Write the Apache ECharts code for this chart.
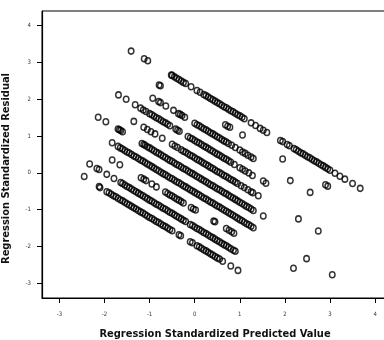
<!DOCTYPE html>
<html>
<head>
<meta charset="utf-8">
<script src="https://cdn.jsdelivr.net/npm/echarts@6/dist/echarts.min.js"></script>
<style>
html, body { margin: 0; padding: 0; background: #fff; }
#main { width: 384px; height: 340px; }
</style>
</head>
<body>
<div id="main"></div>
<script>
var xTicks = [-3, -2, -1, 0, 1, 2, 3, 4];
var yTicks = [-3, -2, -1, 0, 1, 2, 3, 4];

// points, grouped by the diagonal band they sit on (top band first)
var lineA = [[-1.41,3.31],[-1.12,3.10],[-1.04,3.05],
    [-0.52,2.66],[-0.5,2.65],[-0.45,2.61],[-0.4,2.57],[-0.35,2.54],[-0.3,2.50],[-0.25,2.46],[-0.2,2.43],
    [-0.08,2.34],[0.05,2.24],[0.12,2.19],[0.2,2.13],[0.25,2.10],
    [0.3,2.06],[0.35,2.02],[0.4,1.99],[0.45,1.95],[0.5,1.91],[0.55,1.88],[0.6,1.84],[0.65,1.80],[0.7,1.77],
    [0.75,1.73],[0.8,1.69],[0.85,1.66],[0.9,1.62],[0.95,1.58],[1.0,1.55],[1.05,1.51],[1.1,1.47],
    [1.25,1.36],[1.35,1.29],[1.45,1.21],[1.52,1.16],[1.6,1.10],
    [1.9,0.88],[1.95,0.85],[2.05,0.77],[2.1,0.74],[2.2,0.66],[2.25,0.63],[2.3,0.59],[2.35,0.55],[2.4,0.52],
    [2.45,0.48],[2.5,0.44],[2.55,0.41],[2.6,0.37],[2.65,0.33],[2.7,0.30],[2.75,0.26],[2.8,0.22],[2.85,0.19],
    [2.9,0.15],[2.95,0.11],[3.0,0.07],[3.11,-0.01],[3.22,-0.09],[3.33,-0.17],[3.5,-0.29],[3.67,-0.42]];
var lineB = [[-0.79,2.39],[-0.76,2.37],[0.68,1.31],[0.73,1.27],[0.78,1.24],[1.06,1.03],[1.95,0.38],[2.9,-0.32],[2.95,-0.36]];
var lineC = [[-0.93,2.03],[-0.8,1.94],[-0.76,1.91],[-0.64,1.82],[-0.47,1.70],[-0.36,1.61],[-0.32,1.59],[-0.28,1.56],[-0.22,1.51],
    [0,1.35],[0.05,1.31],[0.1,1.28],[0.15,1.24],[0.2,1.20],[0.25,1.17],[0.3,1.13],[0.35,1.09],[0.4,1.06],
    [0.45,1.02],[0.5,0.98],[0.55,0.95],[0.6,0.91],[0.65,0.87],[0.7,0.84],[0.75,0.80],
    [0.82,0.75],[0.9,0.69],[1.0,0.62],[1.06,0.57],[1.12,0.53],[1.18,0.48],[1.25,0.43],[1.3,0.39],
    [2.12,-0.21],[2.56,-0.53]];
var lineD = [[-1.69,2.12],[-1.52,2.00],[-1.32,1.85],[-1.2,1.76],[-1.14,1.71],[-1.08,1.67],
    [-1.0,1.61],[-0.95,1.58],[-0.9,1.54],[-0.85,1.50],[-0.8,1.47],[-0.75,1.43],[-0.7,1.39],[-0.65,1.36],[-0.6,1.32],[-0.55,1.28],
    [-0.42,1.19],[-0.38,1.16],[-0.34,1.13],
    [-0.15,0.99],[-0.1,0.95],[-0.05,0.92],[0,0.88],[0.05,0.84],[0.1,0.81],[0.15,0.77],[0.2,0.73],[0.25,0.70],
    [0.3,0.66],[0.35,0.62],[0.4,0.59],[0.45,0.55],[0.5,0.51],[0.55,0.48],[0.6,0.44],[0.65,0.40],[0.7,0.37],
    [0.75,0.33],[0.8,0.29],[0.88,0.23],[1.0,0.14],[1.06,0.10],[1.12,0.05],[1.2,0.00],[1.28,-0.07],
    [1.52,-0.22],[1.58,-0.28]];
var lineE = [[-1.35,1.40],[-1.13,1.24],[-1.05,1.18],[-0.97,1.12],[-0.88,1.06],[-0.72,0.94],
    [-0.5,0.78],[-0.44,0.73],[-0.38,0.69],
    [-0.3,0.63],[-0.25,0.59],[-0.2,0.56],[-0.15,0.52],[-0.1,0.48],[-0.05,0.45],[0,0.41],[0.05,0.37],[0.1,0.34],
    [0.15,0.30],[0.2,0.26],[0.25,0.23],[0.3,0.19],[0.35,0.15],[0.4,0.12],[0.45,0.08],[0.5,0.04],[0.55,0.01],
    [0.6,-0.03],[0.65,-0.07],[0.7,-0.10],[0.75,-0.14],[0.8,-0.18],[0.85,-0.21],[0.9,-0.25],[0.95,-0.29],
    [1.03,-0.35],[1.1,-0.40],[1.18,-0.46],[1.25,-0.51],[1.29,-0.54],[1.41,-0.62],
    [2.3,-1.25],[2.74,-1.58]];
var lineF = [[-2.14,1.51],[-1.97,1.39],[-1.7,1.19],[-1.67,1.17],[-1.64,1.15],[-1.6,1.12],[-1.17,0.80],[-1.13,0.77],
    [-1.1,0.75],[-1.05,0.71],[-1.0,0.68],[-0.95,0.64],[-0.9,0.60],[-0.85,0.56],[-0.8,0.53],[-0.75,0.49],
    [-0.7,0.45],[-0.65,0.42],[-0.6,0.38],[-0.55,0.34],[-0.5,0.31],[-0.45,0.27],[-0.4,0.23],[-0.35,0.20],
    [-0.3,0.16],[-0.25,0.12],[-0.2,0.09],[-0.15,0.05],[-0.1,0.01],[-0.05,-0.02],[0,-0.06],[0.05,-0.10],
    [0.1,-0.13],[0.15,-0.17],[0.2,-0.21],[0.25,-0.24],[0.3,-0.28],[0.35,-0.32],[0.4,-0.35],[0.45,-0.39],
    [0.5,-0.43],[0.55,-0.46],[0.6,-0.50],[0.65,-0.54],[0.7,-0.57],[0.75,-0.61],[0.8,-0.65],[0.85,-0.68],
    [0.9,-0.72],[0.95,-0.76],[1.0,-0.80],[1.05,-0.83],[1.1,-0.87],[1.15,-0.91],[1.2,-0.94],[1.25,-0.98],
    [1.3,-1.02],[1.52,-1.17]];
var lineG = [[-1.83,0.82],
    [-1.7,0.72],[-1.65,0.68],[-1.6,0.65],[-1.55,0.61],[-1.5,0.57],[-1.45,0.54],[-1.4,0.50],[-1.35,0.46],
    [-1.3,0.43],[-1.25,0.39],[-1.2,0.35],[-1.15,0.32],[-1.1,0.28],[-1.05,0.24],[-1.0,0.21],[-0.95,0.17],
    [-0.9,0.13],[-0.85,0.09],[-0.8,0.06],[-0.75,0.02],[-0.7,-0.02],[-0.65,-0.05],[-0.6,-0.09],[-0.55,-0.13],
    [-0.5,-0.16],[-0.45,-0.20],[-0.4,-0.24],[-0.35,-0.27],[-0.3,-0.31],[-0.25,-0.35],[-0.2,-0.38],[-0.15,-0.42],
    [-0.1,-0.46],[-0.05,-0.49],[0,-0.53],[0.05,-0.57],[0.1,-0.60],[0.15,-0.64],[0.2,-0.68],[0.25,-0.71],
    [0.3,-0.75],[0.35,-0.79],[0.4,-0.82],[0.45,-0.86],[0.5,-0.90],[0.55,-0.93],[0.6,-0.97],[0.65,-1.01],
    [0.7,-1.04],[0.75,-1.08],[0.8,-1.12],[0.85,-1.15],[0.9,-1.19],[0.95,-1.23],[1.0,-1.27],[1.05,-1.30],
    [1.1,-1.34],[1.15,-1.38],[1.2,-1.41],[1.25,-1.45],[1.3,-1.49],
    [2.48,-2.33],[3.05,-2.77]];
var lineH = [[-1.83,0.35],[-1.66,0.22],[-1.19,-0.13],[-1.13,-0.17],[-1.08,-0.21],[-0.95,-0.30],[-0.85,-0.38],
    [-0.65,-0.52],[-0.6,-0.56],[-0.55,-0.60],[-0.5,-0.63],[-0.45,-0.67],[-0.4,-0.71],[-0.35,-0.74],[-0.3,-0.78],[-0.25,-0.82],
    [-0.08,-0.94],[-0.03,-0.98],[0.02,-1.01],[0.42,-1.31],[0.45,-1.33],
    [0.7,-1.51],[0.76,-1.56],[0.82,-1.60],[0.87,-1.64],[2.19,-2.59]];
var lineI = [[-2.33,0.24],[-2.17,0.12],[-2.12,0.09],[-1.95,-0.04],[-1.79,-0.15],[-1.64,-0.26],
    [-1.6,-0.29],[-1.55,-0.33],[-1.5,-0.37],[-1.45,-0.40],[-1.4,-0.44],[-1.35,-0.48],[-1.3,-0.51],[-1.25,-0.55],
    [-1.2,-0.59],[-1.15,-0.62],[-1.1,-0.66],[-1.05,-0.70],[-1.0,-0.74],[-0.95,-0.77],[-0.9,-0.81],[-0.85,-0.85],
    [-0.8,-0.88],[-0.75,-0.92],[-0.7,-0.96],[-0.65,-0.99],[-0.6,-1.03],[-0.55,-1.07],[-0.5,-1.10],[-0.45,-1.14],
    [-0.4,-1.18],[-0.35,-1.21],[-0.3,-1.25],[-0.25,-1.29],[-0.2,-1.32],
    [-0.1,-1.40],[-0.05,-1.43],[0,-1.47],[0.05,-1.51],[0.1,-1.54],[0.15,-1.58],[0.2,-1.62],[0.25,-1.65],
    [0.3,-1.69],[0.35,-1.73],[0.4,-1.76],[0.45,-1.80],[0.5,-1.84],[0.55,-1.87],[0.6,-1.91],[0.65,-1.95],
    [0.7,-1.98],[0.75,-2.02],[0.8,-2.06],[0.86,-2.10],[0.9,-2.13]];
var lineJ = [[-2.45,-0.10],[-2.12,-0.37],[-2.1,-0.40],[-1.95,-0.51],[-1.9,-0.54],
    [-1.85,-0.58],[-1.8,-0.62],[-1.75,-0.65],[-1.7,-0.69],[-1.65,-0.73],[-1.6,-0.76],[-1.55,-0.80],[-1.5,-0.84],
    [-1.45,-0.87],[-1.4,-0.91],[-1.35,-0.95],[-1.3,-0.98],[-1.25,-1.02],[-1.2,-1.06],[-1.15,-1.09],[-1.1,-1.13],
    [-1.05,-1.17],[-1.0,-1.21],[-0.95,-1.24],[-0.9,-1.28],[-0.85,-1.32],[-0.8,-1.35],[-0.75,-1.39],[-0.7,-1.43],
    [-0.65,-1.46],[-0.6,-1.50],[-0.55,-1.54],[-0.5,-1.57],
    [-0.35,-1.68],[-0.31,-1.71],[-0.1,-1.87],[-0.05,-1.90],[0.05,-1.98],[0.1,-2.01],[0.15,-2.05],[0.2,-2.09],
    [0.25,-2.12],[0.3,-2.16],[0.35,-2.20],[0.4,-2.23],[0.45,-2.27],[0.5,-2.31],[0.55,-2.34],[0.62,-2.40],
    [0.8,-2.53],[0.96,-2.65]];

var allPoints = [].concat(lineA, lineB, lineC, lineD, lineE, lineF, lineG, lineH, lineI, lineJ);

var chart = echarts.init(document.getElementById('main'), null, { renderer: 'canvas' });

var tickFont = {
    fontFamily: 'DejaVu Sans Condensed, DejaVu Sans',
    fontSize: 6,
    color: '#333'
};
var titleFont = {
    fontFamily: 'DejaVu Sans Condensed, DejaVu Sans',
    fontSize: 11,
    fontWeight: 'bold',
    color: '#111'
};

chart.setOption({
    animation: false,
    backgroundColor: '#fff',
    grid: {
        left: 42,
        top: 11,
        right: -10,   // right edge of the frame falls outside the picture
        bottom: 42,
        outerBoundsMode: 'none',
        containLabel: false,
        show: true,
        borderColor: '#000',
        borderWidth: 1
    },
    xAxis: {
        type: 'value',
        min: -3.386,
        max: 4.419,
        name: 'Regression Standardized Predicted Value',
        nameLocation: 'middle',
        nameGap: 31,
        nameTextStyle: Object.assign({ padding: [0, 6, 0, 0] }, titleFont),
        splitLine: { show: false },
        axisLine: { show: true, onZero: false, lineStyle: { color: '#000', width: 1.2 } },
        axisTick: { show: true, length: 5, customValues: xTicks, lineStyle: { color: '#000' } },
        axisLabel: Object.assign({ margin: 13, customValues: xTicks }, tickFont)
    },
    yAxis: {
        type: 'value',
        min: -3.4,
        max: 4.4,
        name: 'Regression Standardized Residual',
        nameLocation: 'middle',
        nameGap: 30,
        nameTextStyle: Object.assign({ padding: [0, 28, 0, 0] }, titleFont),
        splitLine: { show: false },
        axisLine: { show: true, onZero: false, lineStyle: { color: '#000', width: 1.2 } },
        axisTick: { show: true, length: 5, customValues: yTicks, lineStyle: { color: '#000' } },
        axisLabel: Object.assign({ margin: 11, customValues: yTicks }, tickFont)
    },
    series: [{
        type: 'scatter',
        data: allPoints,
        symbol: 'circle',
        symbolSize: [5.5, 6],
        itemStyle: {
            color: 'rgba(0,0,0,0)',
            borderColor: '#000',
            borderWidth: 1.5
        },
        emphasis: { disabled: true }
    }]
});
</script>
</body>
</html>
